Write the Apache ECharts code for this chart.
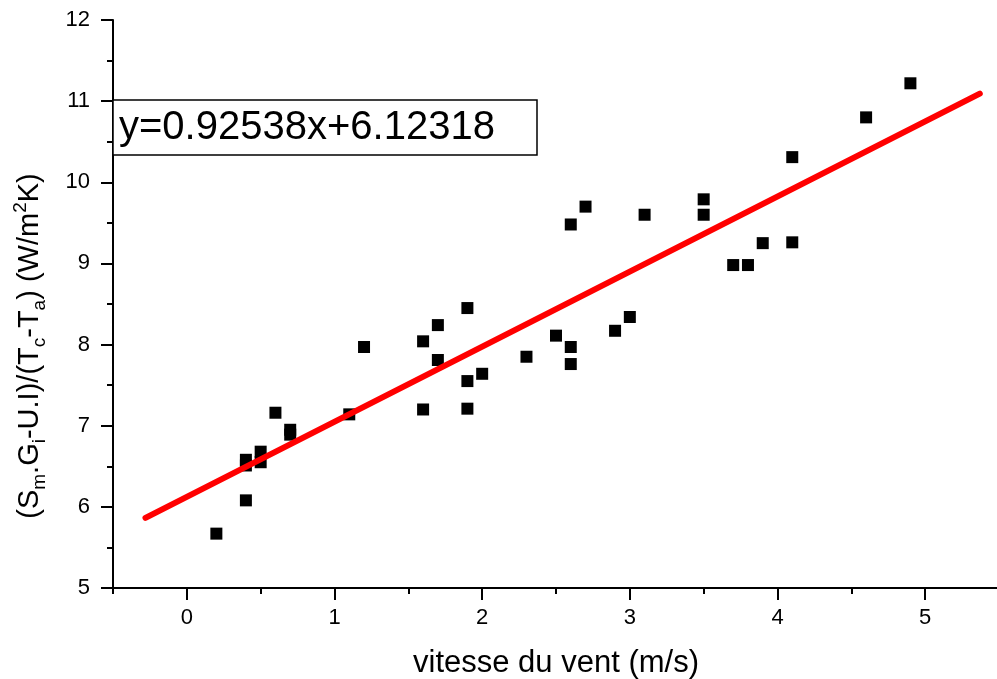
<!DOCTYPE html>
<html><head><meta charset="utf-8">
<script src="https://cdn.jsdelivr.net/npm/echarts@6/dist/echarts.min.js"></script>
<style>html,body{margin:0;padding:0;background:#fff;overflow:hidden}#c{width:997px;height:679px}</style>
</head><body><div id="c"></div>
<script>
// Data
const windSpeed = [0.2,0.4,0.4,0.4,0.5,0.5,0.6,0.7,0.7,1.1,1.2,1.6,1.6,1.7,1.7,1.9,1.9,1.9,2.0,2.3,2.5,2.6,2.6,2.6,2.7,2.9,3.0,3.1,3.5,3.5,3.7,3.8,3.9,4.1,4.1,4.6,4.9];
const heatCoef  = [5.67,6.08,6.58,6.51,6.68,6.55,7.16,6.95,6.89,7.14,7.97,8.04,7.20,8.24,7.81,8.45,7.55,7.21,7.64,7.85,8.11,7.97,7.76,9.48,9.70,8.17,8.34,9.60,9.79,9.60,8.98,8.98,9.25,10.31,9.26,10.80,11.22];
const fitSlope = 0.92538;
const fitIntercept = 6.12318;
const fitXRange = [-0.28, 5.37];
const xMajorTicks = [0,1,2,3,4,5];
const xMinorTicks = [-0.5,0.5,1.5,2.5,3.5,4.5,5.5];
const equationText = 'y=0.92538x+6.12318';
const xAxisTitle = 'vitesse du vent (m/s)';

const FONT = 'Liberation Sans, Arial, sans-serif';
const scatterData = windSpeed.map((x, i) => [x, heatCoef[i]]);
const fitData = fitXRange.map(x => [x, fitSlope * x + fitIntercept]);

const chart = echarts.init(document.getElementById('c'), null, {renderer: 'canvas', width: 997, height: 679});
const blackLine = {color: '#000', width: 2};
chart.setOption({
  animation: false,
  backgroundColor: '#fff',
  grid: {left: 113, top: 20, width: 886, height: 568, containLabel: false, outerBoundsMode: 'none'},
  xAxis: [
    {
      type: 'value', min: -0.5, max: 5.5, interval: 0.5,
      axisLine: {show: true, onZero: false, lineStyle: blackLine},
      axisTick: {show: true, customValues: xMinorTicks, length: 6, lineStyle: blackLine},
      axisLabel: {show: false},
      splitLine: {show: false},
      name: xAxisTitle, nameLocation: 'middle', nameGap: 60,
      nameTextStyle: {fontFamily: FONT, fontSize: 31, color: '#000'}
    },
    {
      type: 'value', min: -0.5, max: 5.5, interval: 0.5, position: 'bottom',
      axisLine: {show: false, onZero: false},
      axisTick: {show: true, customValues: xMajorTicks, length: 12, lineStyle: blackLine},
      axisLabel: {show: true, customValues: xMajorTicks, margin: 19, fontFamily: FONT, fontSize: 22, color: '#000'},
      splitLine: {show: false}
    }
  ],
  yAxis: {
    type: 'value', min: 5, max: 12, interval: 1,
    axisLine: {show: true, onZero: false, lineStyle: blackLine},
    axisTick: {show: true, length: 12, lineStyle: blackLine},
    minorTick: {show: true, splitNumber: 2, length: 6, lineStyle: blackLine},
    axisLabel: {show: true, margin: 23, fontFamily: FONT, fontSize: 22, color: '#000'},
    splitLine: {show: false}, minorSplitLine: {show: false}
  },
  series: [
    {
      type: 'scatter', xAxisIndex: 0, data: scatterData,
      symbol: 'rect', symbolSize: 12, itemStyle: {color: '#000', opacity: 1}, z: 2
    },
    {
      type: 'line', xAxisIndex: 0, data: fitData, showSymbol: false, symbol: 'none',
      lineStyle: {color: '#ff0000', width: 6, cap: 'round', opacity: 1}, z: 3
    }
  ],
  graphic: [
    {type: 'rect', shape: {x: 113, y: 100, width: 424, height: 55},
     style: {fill: '#fff', stroke: '#000', lineWidth: 1.5}, z: 10},
    {type: 'text', x: 119, y: 128, z: 11,
     style: {text: equationText, fontFamily: FONT, fontSize: 40, fill: '#000', verticalAlign: 'middle', align: 'left'}},
    {type: 'text', x: 30, y: 346, rotation: Math.PI / 2, z: 11,
     style: {
       text: '(S{sub|m}.G{sub|i}-U.I)/(T{sub|c}-T{sub|a}) (W/m{sup|2}K)',
       fontFamily: FONT, fontSize: 29, lineHeight: 38, fill: '#000', align: 'center', verticalAlign: 'middle',
       rich: {
         sub: {fontFamily: FONT, fontSize: 19, lineHeight: 19, verticalAlign: 'bottom', fill: '#000'},
         sup: {fontFamily: FONT, fontSize: 19, lineHeight: 19, verticalAlign: 'top', fill: '#000'}
       }
     }}
  ]
});
</script></body></html>
